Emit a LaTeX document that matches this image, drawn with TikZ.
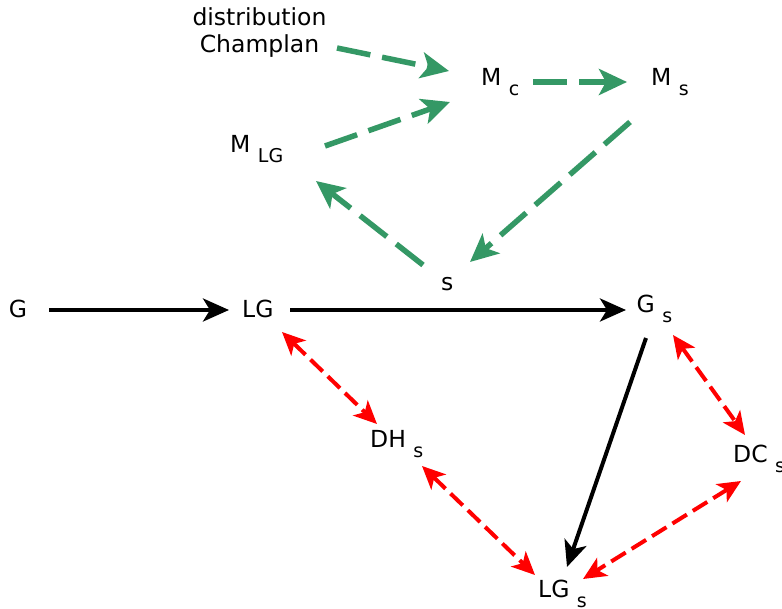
\documentclass[tikz,border=0pt]{standalone}
\usepackage{fontspec}
\setmainfont{DejaVu Sans}
\usetikzlibrary{arrows.meta}
\definecolor{dgreen}{RGB}{52,152,101}
\definecolor{dred}{RGB}{255,0,0}
\newcommand{\lab}[2]{#1 \raisebox{-10pt}{\fontsize{19}{19}\selectfont #2}}
\tikzset{
  lbl/.style={anchor=base west, inner sep=0pt, font=\fontsize{23.5}{27}\selectfont},
  blackarrow/.style={draw=black, line width=4pt, -{Stealth[length=26pt,width=23pt,inset=7pt]}},
  greenarrow/.style={draw=dgreen, line width=5.5pt, dash pattern=on 34pt off 12pt, -{Stealth[length=28pt,width=26pt,inset=7pt]}},
  redarrow/.style={draw=dred, line width=4pt, dash pattern=on 17pt off 7pt, {Stealth[length=23pt,width=21pt,inset=6pt]}-{Stealth[length=23pt,width=21pt,inset=6pt]}}
}
\begin{document}
\begin{tikzpicture}[x=1pt,y=-1pt]
\useasboundingbox[fill=white] (0,0) rectangle (782,609);
% labels
\node[lbl, anchor=base] (dist) at (259.5,26) {\begin{tabular}[t]{@{}c@{}}distribution\\Champlan\end{tabular}};
\node[lbl] (G) at (8.6,318) {G};
\node[lbl] (LG) at (242,318) {LG};
\node[lbl] (Gs) at (636.5,313) {\lab{G}{s}};
\node[lbl] (s) at (441,291) {s};
\node[lbl] (Mc) at (481,86) {\lab{M}{c}};
\node[lbl] (Ms) at (651,86) {\lab{M}{s}};
\node[lbl] (MLG) at (230,153) {\lab{M}{LG}};
\node[lbl] (DHs) at (370,447) {\lab{DH}{s}};
\node[lbl] (DCs) at (733,462) {\lab{DC}{s}};
\node[lbl] (LGs) at (538,597) {\lab{LG}{s}};
% green connectors
\draw[greenarrow] ([shift={(77.5,22)}]dist.base) -- ([shift={(-32,-15)}]Mc.base west);
\draw[greenarrow] ([shift={(95,-7)}]MLG.base west) -- ([shift={(-31,16)}]Mc.base west);
\draw[greenarrow] ([shift={(52,-4)}]Mc.base west) -- ([shift={(-24,-4)}]Ms.base west);
\draw[greenarrow] ([shift={(-21,36)}]Ms.base west) -- ([shift={(29,-29)}]s.base west);
\draw[greenarrow] ([shift={(-18,-26)}]s.base west) -- ([shift={(86,28)}]MLG.base west);
% black connectors
\draw[blackarrow] ([shift={(40.4,-8)}]G.base west) -- ([shift={(-13,-8)}]LG.base west);
\draw[blackarrow] ([shift={(48,-8)}]LG.base west) -- ([shift={(-10.5,-3)}]Gs.base west);
\draw[blackarrow] ([shift={(9.5,25)}]Gs.base west) -- ([shift={(29,-30)}]LGs.base west);
% red connectors
\draw[redarrow] ([shift={(40,14)}]LG.base west) -- ([shift={(7,-23)}]DHs.base west);
\draw[redarrow] ([shift={(52,19)}]DHs.base west) -- ([shift={(-3,-22)}]LGs.base west);
\draw[redarrow] ([shift={(36.5,22)}]Gs.base west) -- ([shift={(12,-27)}]DCs.base west);
\draw[redarrow] ([shift={(8,19)}]DCs.base west) -- ([shift={(45,-18)}]LGs.base west);
\end{tikzpicture}
\end{document}
